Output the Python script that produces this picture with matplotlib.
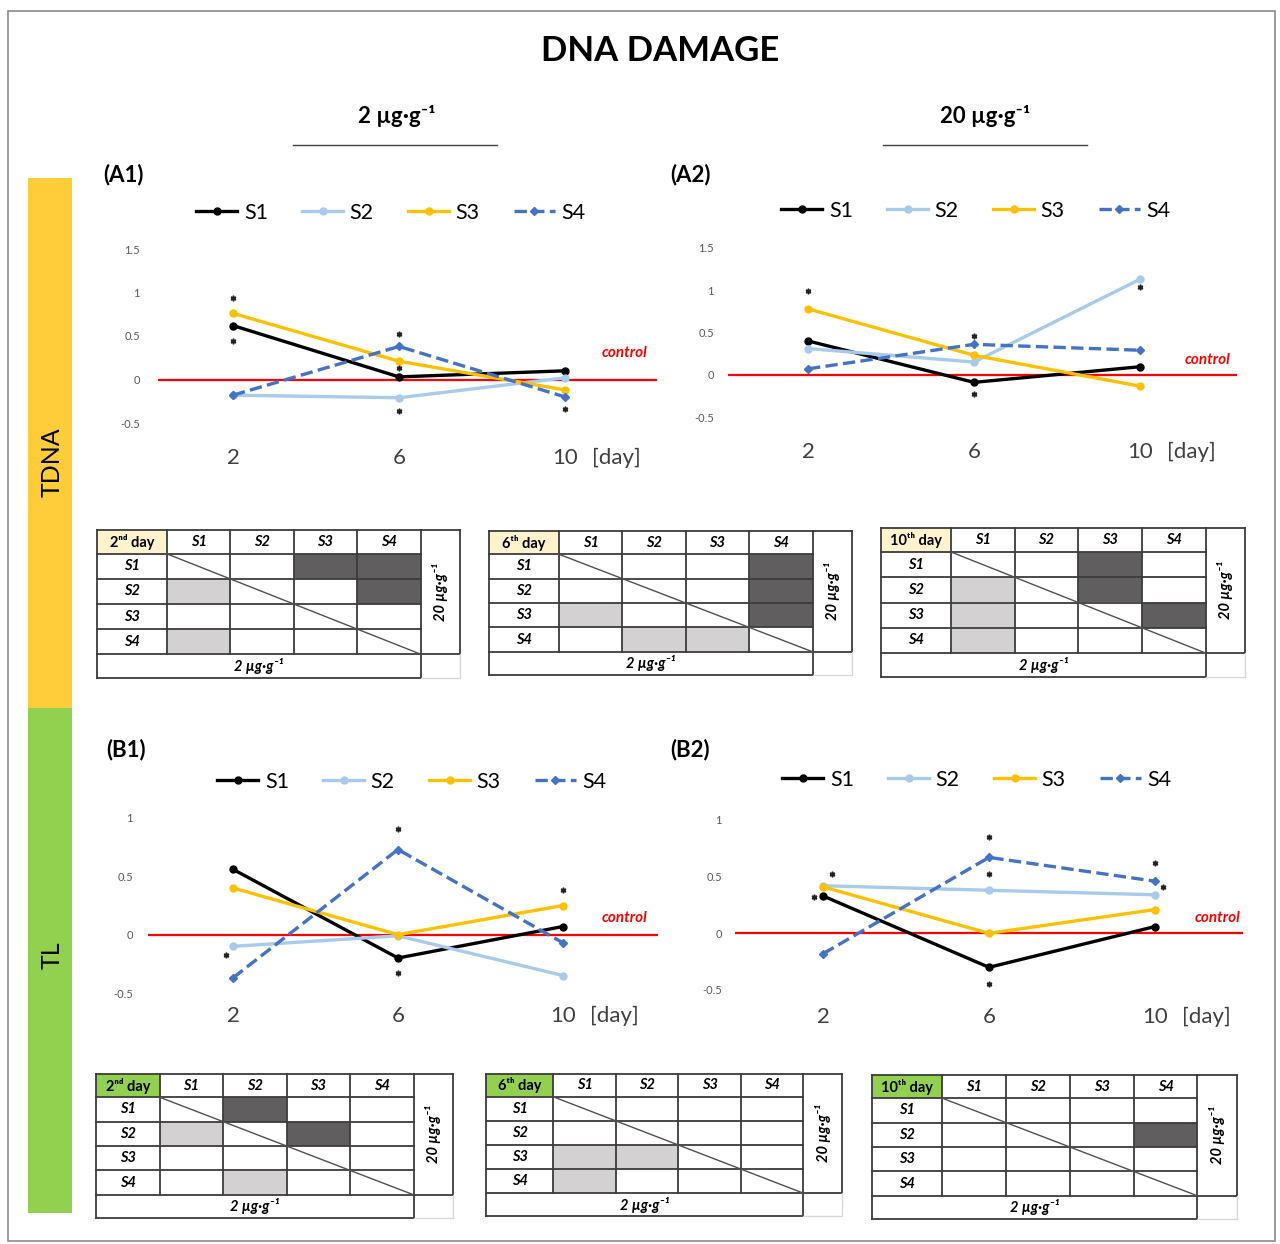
import numpy as np
import matplotlib
matplotlib.use('Agg')
import matplotlib.pyplot as plt
from matplotlib.patches import Rectangle

plt.rcParams['font.family'] = ['Lato', 'DejaVu Sans']

W, H = 1280, 1244

days = [2, 6, 10]
series = ['S1', 'S2', 'S3', 'S4']
colors = ['#000000', '#A9CBEB', '#FFC000', '#4472C4']
styles = ['-', '-', '-', '--']
markers = ['o', 'o', 'o', 'D']

# (A1) TDNA, 2 ug/g
a1_s1 = [0.62, 0.03, 0.10]
a1_s2 = [-0.18, -0.21, 0.02]
a1_s3 = [0.76, 0.21, -0.12]
a1_s4 = [-0.18, 0.38, -0.20]
a1_star_x = [2, 2, 6, 6, 6, 10]
a1_star_y = [0.94, 0.44, 0.52, 0.13, -0.36, -0.34]

# (A2) TDNA, 20 ug/g
a2_s1 = [0.40, -0.09, 0.095]
a2_s2 = [0.31, 0.15, 1.13]
a2_s3 = [0.78, 0.23, -0.135]
a2_s4 = [0.07, 0.36, 0.29]
a2_star_x = [2, 6, 6, 10]
a2_star_y = [0.99, 0.46, -0.23, 1.04]

# (B1) TL, 2 ug/g
b1_s1 = [0.56, -0.20, 0.07]
b1_s2 = [-0.10, -0.01, -0.35]
b1_s3 = [0.40, 0.0, 0.25]
b1_s4 = [-0.37, 0.73, -0.07]
b1_star_x = [1.83, 6, 6, 10]
b1_star_y = [-0.17, 0.91, -0.33, 0.38]

# (B2) TL, 20 ug/g
b2_s1 = [0.33, -0.30, 0.06]
b2_s2 = [0.42, 0.38, 0.34]
b2_s3 = [0.41, 0.0, 0.21]
b2_s4 = [-0.18, 0.67, 0.46]
b2_star_x = [2.22, 1.78, 6, 6, 6, 10, 10.2]
b2_star_y = [0.52, 0.32, 0.85, 0.52, -0.45, 0.62, 0.41]

yt_a = [-0.5, 0, 0.5, 1, 1.5]
yt_a_lab = ['-0.5', '0', '0.5', '1', '1.5']
yt_b = [-0.5, 0, 0.5, 1]
yt_b_lab = ['-0.5', '0', '0.5', '1']

# significance tables: (row, col) of S1..S4
# dark = 20 ug/g (upper), light = 2 ug/g (lower)
tdna_d2_dark = [(0, 2), (0, 3), (1, 3)]
tdna_d2_light = [(1, 0), (3, 0)]
tdna_d6_dark = [(0, 3), (1, 3), (2, 3)]
tdna_d6_light = [(2, 0), (3, 1), (3, 2)]
tdna_d10_dark = [(0, 2), (1, 2), (2, 3)]
tdna_d10_light = [(1, 0), (2, 0), (3, 0)]
tl_d2_dark = [(0, 1), (1, 2)]
tl_d2_light = [(1, 0), (3, 1)]
tl_d6_dark = []
tl_d6_light = [(2, 0), (2, 1), (3, 0)]
tl_d10_dark = [(1, 3)]
tl_d10_light = []

fig = plt.figure(figsize=(W / 100, H / 100), dpi=100)

# background / decorations in pixel coords
bg = fig.add_axes([0, 0, 1, 1])
bg.set_xlim(0, W)
bg.set_ylim(H, 0)
bg.axis('off')
bg.add_patch(Rectangle((8, 11), 1267, 1230, fc='white', ec='#8a8a8a', lw=1.2))
bg.add_patch(Rectangle((28, 178), 44, 530, fc='#FFCD3A', ec='none'))
bg.add_patch(Rectangle((28, 708), 44, 505, fc='#92D050', ec='none'))
bg.text(52, 462, 'TDNA', rotation=90, ha='center', va='center', fontsize=18)
bg.text(52, 955, 'TL', rotation=90, ha='center', va='center', fontsize=18)
bg.text(660, 51, 'DNA DAMAGE', ha='center', va='center', fontsize=25, fontweight='bold')
bg.text(397, 116, '2 µg·g⁻¹', ha='center', va='center', fontsize=16, fontweight='bold')
bg.text(985, 116, '20 µg·g⁻¹', ha='center', va='center', fontsize=16, fontweight='bold')
bg.plot([293, 497], [145, 145], color='#404040', lw=1)
bg.plot([883, 1087], [145, 145], color='#404040', lw=1)
for lab, x, y in [('(A1)', 103, 175), ('(A2)', 670, 175), ('(B1)', 106, 750), ('(B2)', 670, 750)]:
    bg.text(x, y, lab, ha='left', va='center', fontsize=16, fontweight='bold')
for x, y in [(625, 353), (1208, 360), (625, 918), (1218, 918)]:
    bg.text(x, y, 'control', ha='center', va='center', fontsize=11,
            fontweight='bold', fontstyle='italic', color='#FF0000')


def chart(xl, xr, d2, d10, hi_px, lo_px, y_hi, y_lo, yt, ytl, data, sx, sy,
          lab_y, ylab_r, leg_xy):
    ppd = (d10 - d2) / 8
    xlim = (2 - (d2 - xl) / ppd, 10 + (xr - d10) / ppd)
    ppu = (lo_px - hi_px) / (y_hi - y_lo)
    pad = 0.1
    top = hi_px - pad * ppu
    bot = lo_px + pad * ppu
    ax = fig.add_axes([xl / W, 1 - bot / H, (xr - xl) / W, (bot - top) / H])
    ax.patch.set_alpha(0)
    ax.set_xlim(xlim)
    ax.set_ylim(y_lo - pad, y_hi + pad)
    for s in ax.spines.values():
        s.set_visible(False)
    ax.axhline(0, color='#FF0000', lw=1.6, zorder=1)
    for vals, name, c, ls, m in zip(data, series, colors, styles, markers):
        ax.plot(days, vals, ls=ls, color=c, lw=2.4, marker=m,
                ms=5 if m == 'o' else 4.5, label=name, zorder=3)
    ax.plot(sx, sy, ls='none', marker=(6, 2, 0), ms=4, mec='#222222', mew=1.1, zorder=4)
    ax.set_yticks(yt)
    ax.set_yticklabels(ytl, fontsize=8, color='#595959')
    ax.set_xticks(days)
    xpad = (lab_y - 9 - bot) * 0.72
    ax.set_xticklabels([str(d) for d in days], fontsize=16, color='#404040')
    ax.tick_params(axis='x', length=0, pad=xpad)
    ax.tick_params(axis='y', length=0, pad=(xl - ylab_r) * 0.72)
    ax.annotate('[day]', xy=(10, 0), xycoords=('data', 'axes fraction'),
                xytext=(19.5, -xpad), textcoords='offset points',
                ha='left', va='top', fontsize=16, color='#404040')
    ax.legend(loc='center', bbox_to_anchor=(leg_xy[0] / W, 1 - leg_xy[1] / H),
              bbox_transform=fig.transFigure, ncol=4, frameon=False, fontsize=15.5,
              handlelength=1.9, handletextpad=0.3, columnspacing=1.6, numpoints=1)
    return ax


chart(158, 657, 233, 565, 249, 423, 1.5, -0.5, yt_a, yt_a_lab,
      [a1_s1, a1_s2, a1_s3, a1_s4], a1_star_x, a1_star_y, 457, 140, (391, 213))
chart(728, 1237, 808, 1140, 248, 417, 1.5, -0.5, yt_a, yt_a_lab,
      [a2_s1, a2_s2, a2_s3, a2_s4], a2_star_x, a2_star_y, 451, 714, (976, 211))
chart(148, 658, 233, 563, 818, 993, 1.0, -0.5, yt_b, yt_b_lab,
      [b1_s1, b1_s2, b1_s3, b1_s4], b1_star_x, b1_star_y, 1015, 133, (412, 782))
chart(735, 1243, 823, 1155, 820, 990, 1.0, -0.5, yt_b, yt_b_lab,
      [b2_s1, b2_s2, b2_s3, b2_s4], b2_star_x, b2_star_y, 1016, 722, (977, 780))

DARK = '#615E5F'
LIGHT = '#D3D1D2'
GRID = '#3c3c3c'


def table(box, head, head_color, dark, light, hw=1.1):
    x0, y0, x1, y1 = box
    ax = fig.add_axes([x0 / W, 1 - y1 / H, (x1 - x0) / W, (y1 - y0) / H])
    cw = [hw, 1, 1, 1, 1, 0.62]
    rh = [0.95, 1, 1, 1, 1, 0.95]
    cx = np.concatenate([[0], np.cumsum(cw)])
    ry = np.concatenate([[0], np.cumsum(rh)])
    ax.set_xlim(0, cx[-1])
    ax.set_ylim(ry[-1], 0)
    ax.axis('off')
    ax.add_patch(Rectangle((0, 0), cw[0], rh[0], fc=head_color, ec='none'))
    for cells, fc in [(dark, DARK), (light, LIGHT)]:
        for r, c in cells:
            ax.add_patch(Rectangle((cx[c + 1], ry[r + 1]), cw[c + 1], rh[r + 1], fc=fc, ec='none'))
    kw = dict(color=GRID, lw=1.3, clip_on=False, solid_capstyle='projecting')
    for i in range(6):
        ax.plot([cx[0], cx[5]], [ry[i], ry[i]], **kw)
    ax.plot([cx[0], cx[5]], [ry[6], ry[6]], **kw)
    for j in range(6):
        ax.plot([cx[j], cx[j]], [ry[0], ry[5]], **kw)
    ax.plot([cx[0], cx[0]], [ry[5], ry[6]], **kw)
    ax.plot([cx[5], cx[5]], [ry[5], ry[6]], **kw)
    ax.plot([cx[5], cx[6]], [ry[0], ry[0]], **kw)
    ax.plot([cx[6], cx[6]], [ry[0], ry[5]], **kw)
    ax.plot([cx[5], cx[6]], [ry[5], ry[5]], **kw)
    ax.plot([cx[5], cx[6], cx[6]], [ry[6], ry[6], ry[5]], color='#d8d8d8', lw=1, clip_on=False)
    ax.plot([cx[1], cx[5]], [ry[1], ry[5]], color='#505050', lw=1)
    ax.text(cw[0] / 2, rh[0] / 2, head, ha='center', va='center', fontsize=10.5, fontweight='bold')
    for k, s in enumerate(series):
        ax.text((cx[k + 1] + cx[k + 2]) / 2, rh[0] / 2, s, ha='center', va='center',
                fontsize=10.5, fontweight='bold', fontstyle='italic')
        ax.text(cw[0] / 2, (ry[k + 1] + ry[k + 2]) / 2, s, ha='center', va='center',
                fontsize=10.5, fontweight='bold', fontstyle='italic')
    ax.text((cx[5] + cx[6]) / 2, ry[5] / 2, '20 µg·g⁻¹', rotation=90, ha='center', va='center',
            fontsize=10.5, fontweight='bold', fontstyle='italic')
    ax.text(cx[5] / 2, (ry[5] + ry[6]) / 2, '2 µg·g⁻¹', ha='center', va='center',
            fontsize=10.5, fontweight='bold', fontstyle='italic')


YEL = '#FFF2CC'
GRN = '#92D050'
table((97, 530, 460, 678), '2ⁿᵈ day', YEL, tdna_d2_dark, tdna_d2_light)
table((489, 531, 852, 675), '6ᵗʰ day', YEL, tdna_d6_dark, tdna_d6_light)
table((881, 528, 1245, 677), '10ᵗʰ day', YEL, tdna_d10_dark, tdna_d10_light)
table((96, 1074, 453, 1218), '2ⁿᵈ day', GRN, tl_d2_dark, tl_d2_light, hw=1.0)
table((486, 1074, 842, 1216), '6ᵗʰ day', GRN, tl_d6_dark, tl_d6_light, hw=1.08)
table((872, 1075, 1237, 1219), '10ᵗʰ day', GRN, tl_d10_dark, tl_d10_light, hw=1.1)

fig.savefig('out.png', dpi=100)
